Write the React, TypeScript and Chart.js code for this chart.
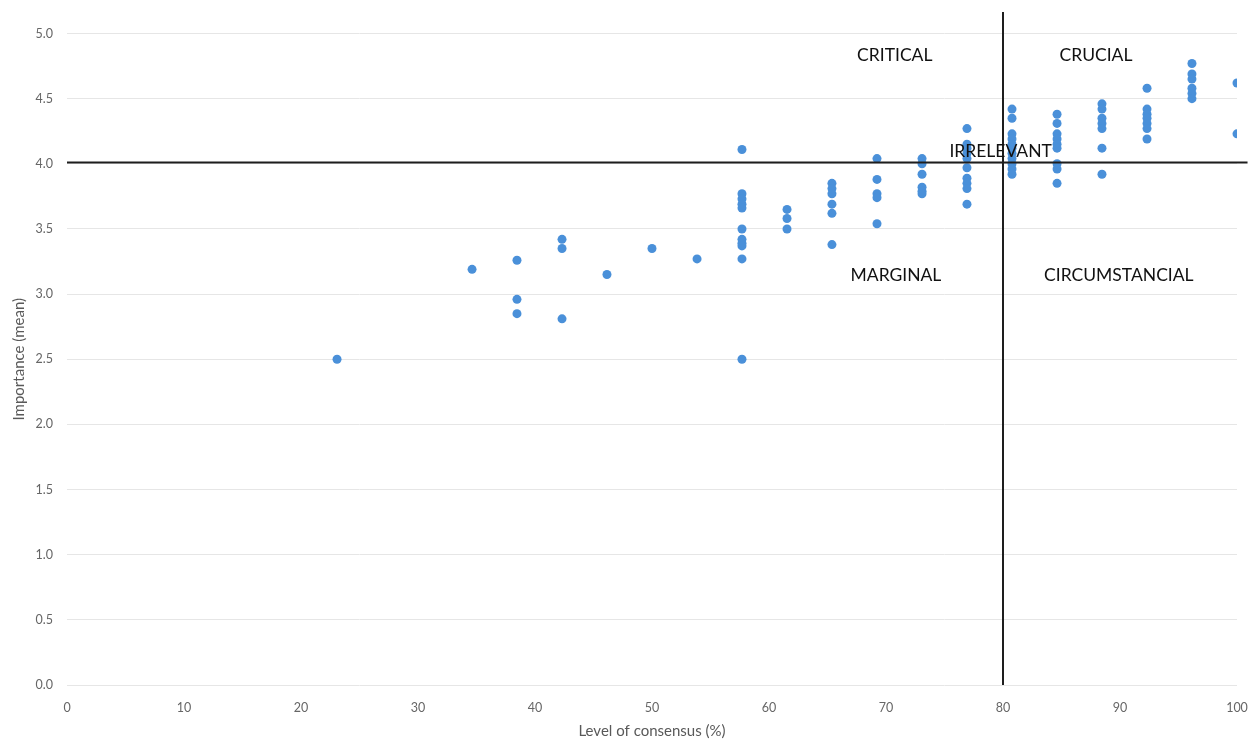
import React, { useEffect, useRef } from "react";
import { Chart, registerables } from "chart.js";

Chart.register(...registerables);

// Consensus levels (%) and the importance means observed at each level
const consensusLevels = [23.08, 34.62, 38.46, 42.31, 46.15, 50, 53.85, 57.69, 61.54, 65.38, 69.23, 73.08, 76.92, 80.77, 84.62, 88.46, 92.31, 96.15, 100];
const importanceByLevel = [
  [2.5],
  [3.19],
  [3.26, 2.96, 2.85],
  [3.42, 3.35, 2.81],
  [3.15],
  [3.35],
  [3.27],
  [4.11, 3.77, 3.73, 3.69, 3.66, 3.5, 3.42, 3.39, 3.37, 3.27, 2.5],
  [3.65, 3.58, 3.5],
  [3.85, 3.81, 3.77, 3.69, 3.62, 3.38],
  [4.04, 3.88, 3.77, 3.74, 3.54],
  [4.04, 4.0, 3.92, 3.82, 3.79, 3.77],
  [4.27, 4.15, 4.12, 4.08, 4.04, 3.97, 3.89, 3.85, 3.81, 3.69],
  [4.42, 4.35, 4.23, 4.19, 4.15, 4.12, 4.08, 4.04, 4.0, 3.96, 3.92],
  [4.38, 4.31, 4.23, 4.19, 4.15, 4.12, 4.0, 3.96, 3.85],
  [4.46, 4.42, 4.35, 4.31, 4.27, 4.12, 3.92],
  [4.58, 4.42, 4.38, 4.35, 4.31, 4.27, 4.19],
  [4.77, 4.69, 4.65, 4.58, 4.54, 4.5],
  [4.62, 4.23],
];

// Quadrant divider thresholds
const consensusThreshold = 80;
const importanceThreshold = 4.01;

// Quadrant labels (text, consensus %, importance)
const quadrantLabels = ["CRITICAL", "CRUCIAL", "IRRELEVANT", "MARGINAL", "CIRCUMSTANCIAL"];
const quadrantLabelX = [70.75, 87.95, 79.8, 70.85, 89.9];
const quadrantLabelY = [4.83, 4.83, 4.093, 3.147, 3.147];

const FONT = "Lato, 'Open Sans', sans-serif";

const quadrantPlugin = {
  id: "quadrants",
  afterDatasetsDraw(chart: any) {
    const { ctx, scales } = chart;
    const xs = scales.x;
    const ys = scales.y;
    ctx.save();
    ctx.strokeStyle = "#1e1e1e";
    ctx.lineWidth = 2;
    // vertical divider
    const vx = xs.getPixelForValue(consensusThreshold);
    ctx.beginPath();
    ctx.moveTo(vx, ys.getPixelForValue(5.165));
    ctx.lineTo(vx, ys.getPixelForValue(0));
    ctx.stroke();
    // horizontal divider
    const hy = ys.getPixelForValue(importanceThreshold);
    ctx.beginPath();
    ctx.moveTo(xs.getPixelForValue(0), hy);
    ctx.lineTo(xs.getPixelForValue(100.9), hy);
    ctx.stroke();
    // labels
    ctx.fillStyle = "#111111";
    ctx.font = "17.5px " + FONT;
    ctx.textAlign = "center";
    ctx.textBaseline = "middle";
    quadrantLabels.forEach((t, i) => {
      ctx.fillText(t, xs.getPixelForValue(quadrantLabelX[i]), ys.getPixelForValue(quadrantLabelY[i]));
    });
    ctx.restore();
  },
};

export default function App() {
  const canvasRef = useRef<HTMLCanvasElement | null>(null);

  useEffect(() => {
    if (!canvasRef.current) return;
    const points: { x: number; y: number }[] = [];
    consensusLevels.forEach((lvl, i) => {
      importanceByLevel[i].forEach((v) => points.push({ x: lvl, y: v }));
    });

    const chart = new Chart(canvasRef.current, {
      type: "scatter",
      data: {
        datasets: [
          {
            label: "Importance",
            data: points,
            backgroundColor: "#4a90d9",
            borderColor: "#4a90d9",
            pointRadius: 4.5,
            pointBorderWidth: 0,
          },
        ],
      },
      options: {
        animation: false,
        responsive: true,
        maintainAspectRatio: false,
        layout: { padding: { left: 0, top: 33.5, right: 13, bottom: 0 } },
        plugins: {
          legend: { display: false },
          tooltip: { enabled: false },
        },
        scales: {
          x: {
            type: "linear",
            min: 0,
            max: 100,
            afterFit: (s: any) => {
              s.height = 55;
              s.paddingLeft = 0;
              s.paddingRight = 0;
            },
            ticks: {
              stepSize: 10,
              padding: 15,
              color: "#666666",
              font: { family: FONT, size: 12.5 },
            },
            grid: { display: false, drawTicks: false },
            border: { display: false },
            title: {
              display: true,
              text: "Level of consensus (%)",
              color: "#595959",
              font: { family: FONT, size: 15 },
              padding: { top: 0, bottom: 0 },
            },
          },
          y: {
            type: "linear",
            min: 0,
            max: 5,
            afterFit: (s: any) => {
              s.width = 67;
            },
            ticks: {
              stepSize: 0.5,
              padding: 14,
              color: "#666666",
              font: { family: FONT, size: 12.5 },
              callback: (v: any) => Number(v).toFixed(1),
            },
            grid: { color: "#e6e6e6", lineWidth: 1, drawTicks: false },
            border: { display: false },
            title: {
              display: true,
              text: "Importance (mean)",
              color: "#595959",
              font: { family: FONT, size: 15 },
              padding: { top: 10, bottom: 0 },
            },
          },
        },
      },
      plugins: [quadrantPlugin],
    });
    return () => chart.destroy();
  }, []);

  return (
    <div style={{ position: "fixed", left: 0, top: 0, width: 1250, height: 740, background: "#ffffff" }}>
      <canvas ref={canvasRef} />
    </div>
  );
}
